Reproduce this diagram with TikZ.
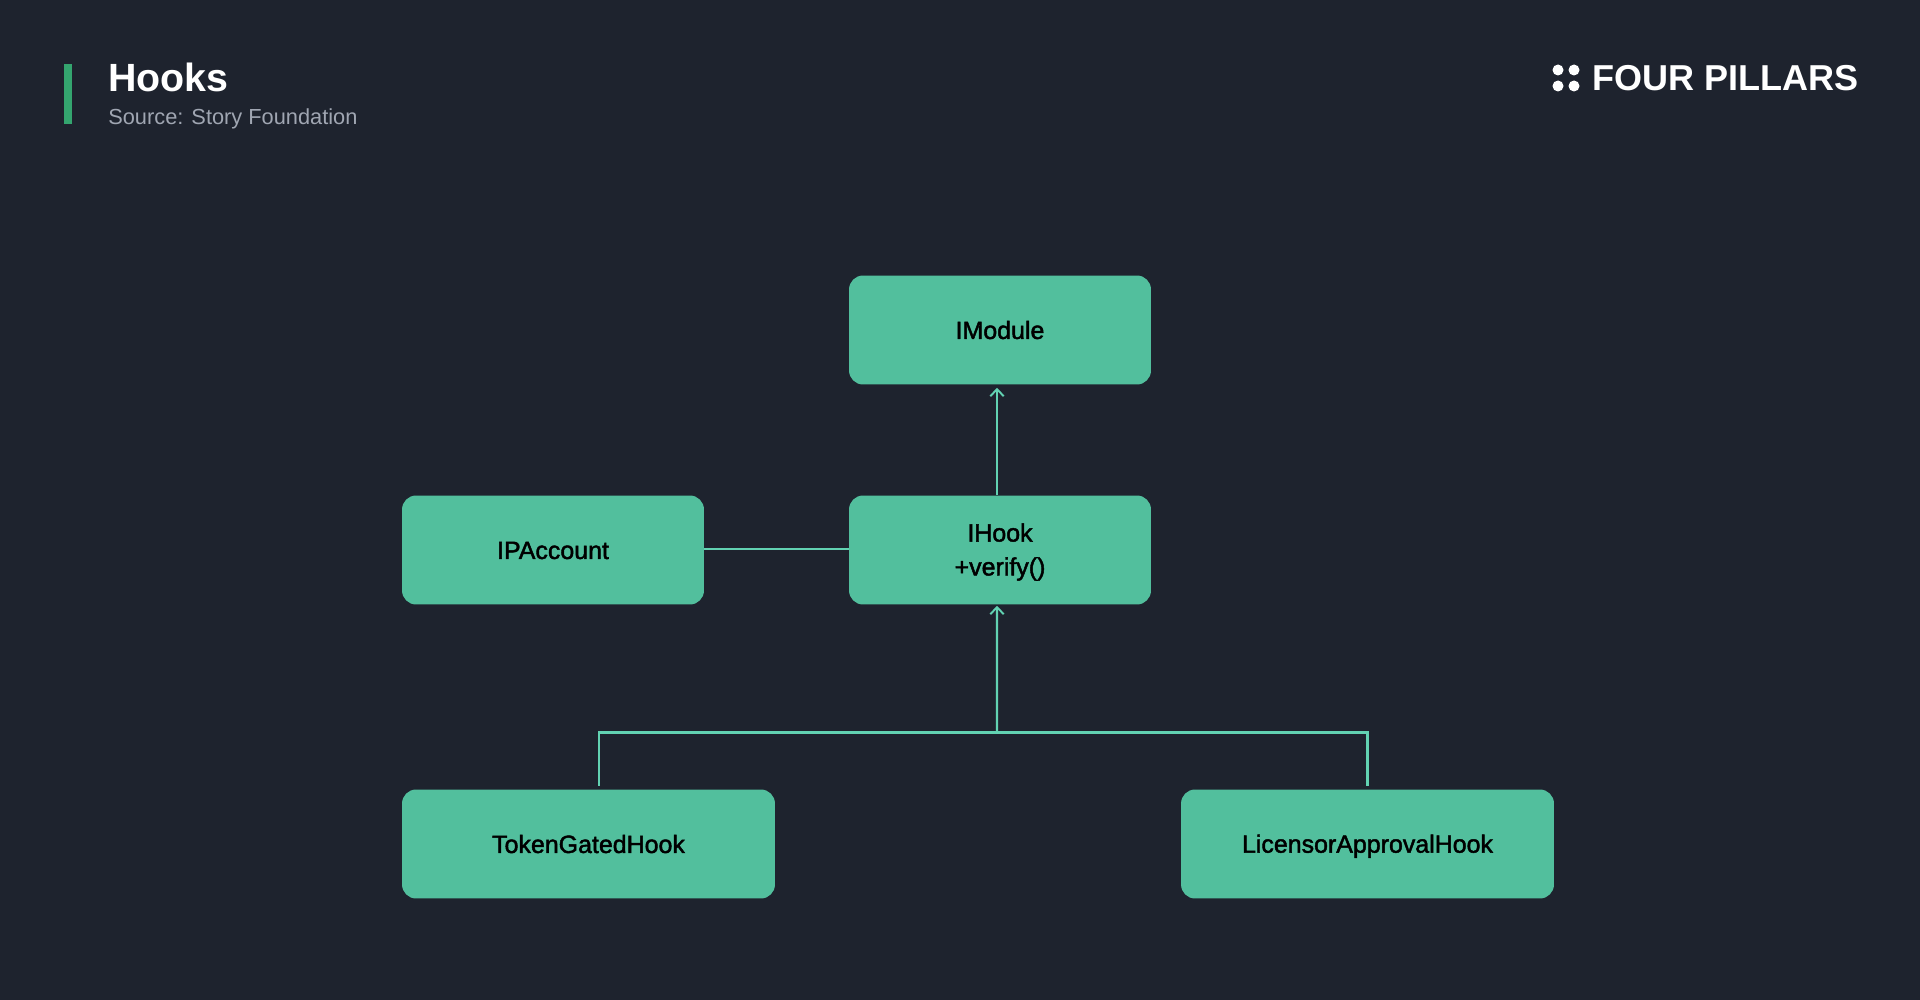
\documentclass[tikz,border=0pt]{standalone}
\usepackage{fontspec}
\setmainfont{Liberation Sans}
\newfontfamily\boxfont{Liberation Sans}[FakeBold=1.8]
\usetikzlibrary{arrows.meta,positioning,calc}
\definecolor{bgdark}{HTML}{1E232E}
\definecolor{boxgreen}{HTML}{52BF9D}
\definecolor{linkgreen}{HTML}{62D2B2}
\definecolor{bargreen}{HTML}{34A56F}
\definecolor{subgrey}{HTML}{A0A6B2}
\newcommand{\boxstrut}{\rule[-2.6pt]{0pt}{15.4pt}}

\begin{document}
\begin{tikzpicture}[
  x=0.02cm, y=-0.02cm,
  hookbox/.style={fill=boxgreen, rounded corners=0.28cm, align=center, text=black, minimum height=2.18cm, inner sep=0pt,
    font=\boxfont\fontsize{14.2}{19.3}\selectfont, execute at begin node=\boxstrut, execute at end node=\boxstrut},
  link/.style={draw=linkgreen, line width=1.25pt},
  >={Straight Barb[length=0.14cm,width=0.27cm,line width=1.1pt]}]
  \fill[bgdark] (0,0) rectangle (1920,1000);
  \useasboundingbox (0,0) rectangle (1920,1000);
  % header
  \node[fill=bargreen, minimum width=0.16cm, minimum height=1.2cm, inner sep=0pt] (bar) at (68,94) {};
  \node[anchor=base west, inner sep=0pt, text=white, font=\bfseries\fontsize{22.4}{26}\selectfont] (title) at (108,92) {Hooks};
  \node[anchor=base west, inner sep=0pt, text=subgrey, font=\fontsize{12.4}{15}\selectfont] (source) at (108,125) {Source: Story Foundation};
  \foreach \i/\px/\py in {a/1558/70,b/1574/70,c/1558/86,d/1574/86}
    \node[circle, fill=white, minimum size=0.22cm, inner sep=0pt] (dot\i) at (\px,\py) {};
  \node[anchor=base west, inner sep=0pt, text=white, font=\bfseries\fontsize{20.5}{24}\selectfont] (brand) at (1592,91) {FOUR PILLARS};
  % boxes
  \node[hookbox, minimum width=6.04cm] (imodule) at (1000,330) {IModule};
  \node[hookbox, minimum width=6.04cm] (ihook) at (1000,550) {\rule{0pt}{12.6pt}IHook\\+verify()};
  \node[hookbox, minimum width=6.04cm] (ipaccount) at (553,550) {IPAccount};
  \node[hookbox, minimum width=7.46cm] (tokengated) at (588.5,844) {TokenGatedHook};
  \node[hookbox, minimum width=7.46cm] (licensor) at (1367.5,844) {LicensorApprovalHook};
  \coordinate (bus) at (997,732.5);
  % connectors
  \draw[link,->,shorten >=0.06cm] ([xshift=-0.06cm]ihook.north) -- ([xshift=-0.06cm]imodule.south);
  \draw[link] ([yshift=0.02cm]ipaccount.east) -- ([yshift=0.02cm]ihook.west);
  \draw[link,->,shorten >=0.02cm] (bus) -- ([xshift=-0.06cm]ihook.south);
  \draw[link,shorten >=0.06cm] (bus) -| ([xshift=0.21cm]tokengated.north);
  \draw[link,shorten >=0.06cm] (bus) -| (licensor.north);
\end{tikzpicture}
\end{document}
